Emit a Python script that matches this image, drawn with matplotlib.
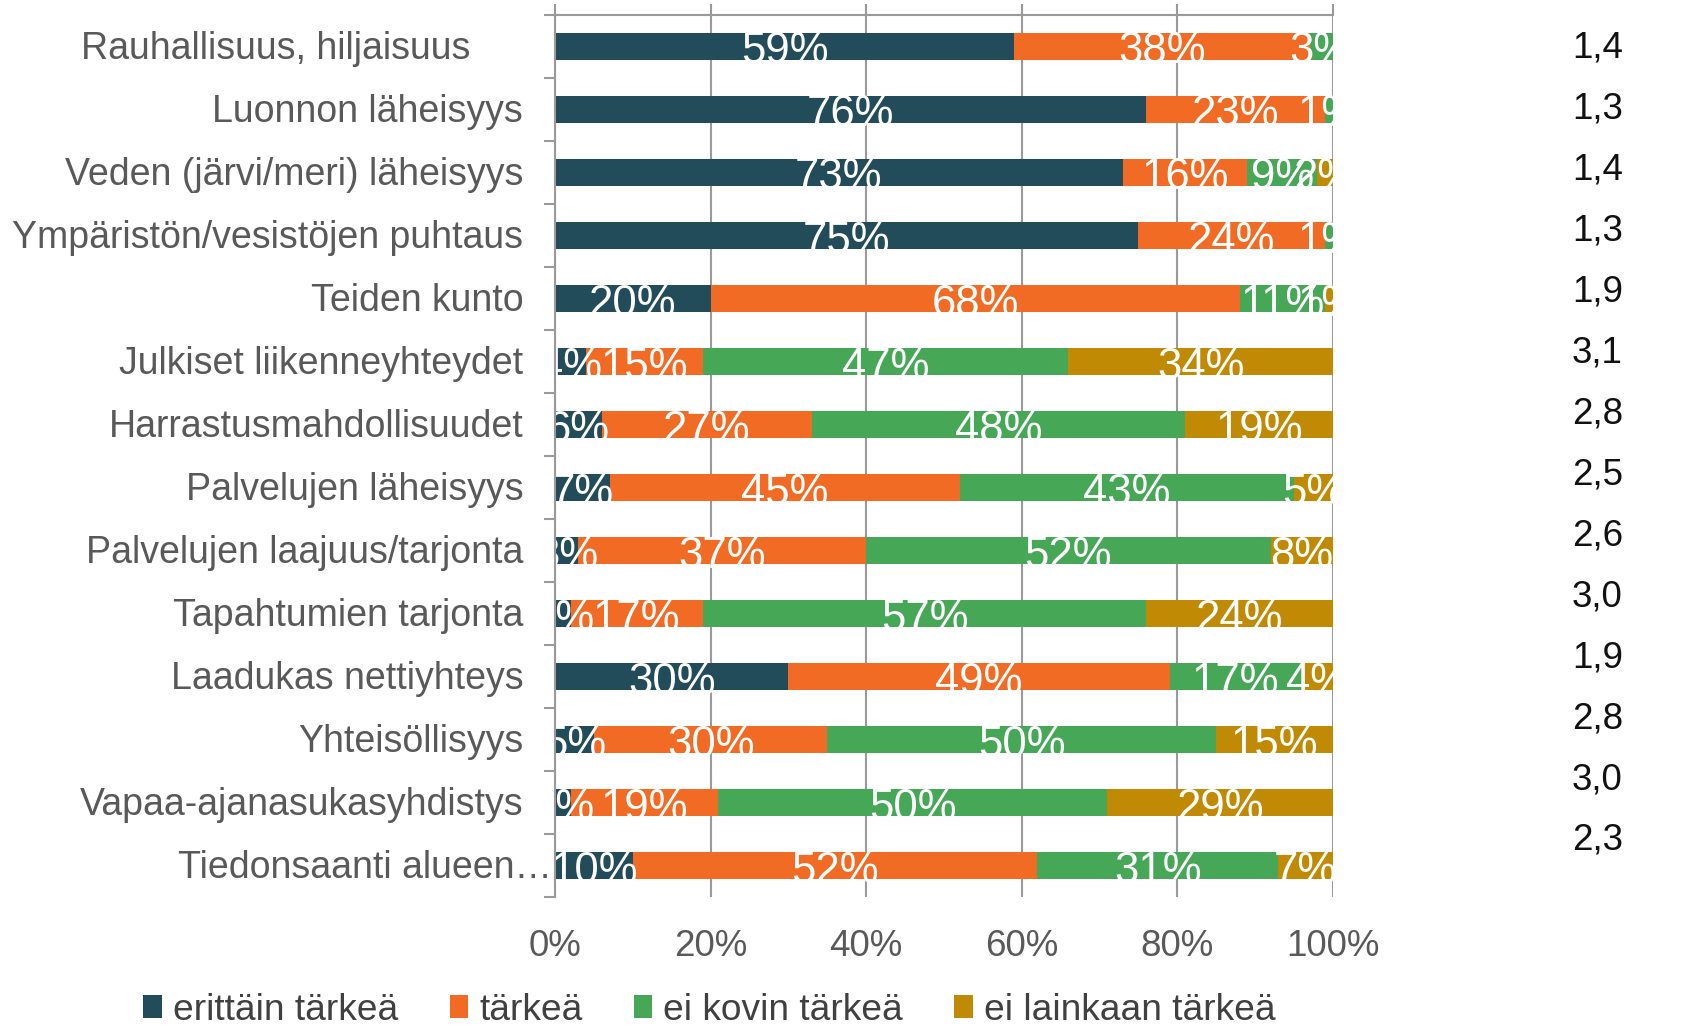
import numpy as np
import matplotlib
matplotlib.use('Agg')
import matplotlib.pyplot as plt
from matplotlib.patches import Patch

categories = ['Rauhallisuus, hiljaisuus',
              'Luonnon läheisyys',
              'Veden (järvi/meri) läheisyys',
              'Ympäristön/vesistöjen puhtaus',
              'Teiden kunto',
              'Julkiset liikenneyhteydet',
              'Harrastusmahdollisuudet',
              'Palvelujen läheisyys',
              'Palvelujen laajuus/tarjonta',
              'Tapahtumien tarjonta',
              'Laadukas nettiyhteys',
              'Yhteisöllisyys',
              'Vapaa-ajanasukasyhdistys',
              'Tiedonsaanti alueen…']

series_names = ['erittäin tärkeä', 'tärkeä', 'ei kovin tärkeä', 'ei lainkaan tärkeä']

erittain = [59, 76, 73, 75, 20, 4, 6, 7, 3, 2, 30, 5, 2, 10]
tarkea = [38, 23, 16, 24, 68, 15, 27, 45, 37, 17, 49, 30, 19, 52]
ei_kovin = [3, 1, 9, 1, 11, 47, 48, 43, 52, 57, 17, 50, 50, 31]
ei_lainkaan = [0, 0, 2, 0, 1, 34, 19, 5, 8, 24, 4, 15, 29, 7]

averages = ['1,4', '1,3', '1,4', '1,3', '1,9', '3,1', '2,8',
            '2,5', '2,6', '3,0', '1,9', '2,8', '3,0', '2,3']

x_ticks = [0, 20, 40, 60, 80, 100]

colors = ['#234C5A', '#F26B24', '#46A857', '#C18A04']
grey = '#9A9A9A'
label_grey = '#595959'

plt.rcParams['font.family'] = ['Liberation Sans', 'DejaVu Sans']


def stacked_chart(filepath='out.png'):
    '''
    Draws the 100% stacked horizontal bar chart with the
    average score column on the right
    '''
    fig = plt.figure(figsize=(16.83, 10.26), dpi=100)
    ax = fig.add_axes([0.3298, 0.1257, 0.4622, 0.8597])

    data = np.array([erittain, tarkea, ei_kovin, ei_lainkaan], dtype=float)
    y = np.arange(len(categories))
    left = np.zeros(len(categories))

    for k in range(data.shape[0]):
        ax.barh(y, data[k], left=left, height=0.44, color=colors[k],
                edgecolor='none', zorder=3)
        for i in range(len(categories)):
            val = data[k, i]
            if val > 0:
                ax.text(left[i] + val / 2., i + 0.27, '{:.0f}%'.format(val),
                        ha='center', va='baseline', color='white',
                        fontsize=31.5, zorder=4, clip_on=True)
        left += data[k]

    ax.set_xlim(0, 100)
    ax.set_ylim(len(categories) - 0.5, -0.5)

    # gridlines + axis at the top with outward ticks
    ax.set_xticks(x_ticks)
    ax.set_xticklabels(['{}%'.format(t) for t in x_ticks])
    ax.grid(axis='x', color=grey, lw=1.5, zorder=1)
    ax.tick_params(axis='x', which='major', bottom=False, top=True,
                   labelbottom=True, labeltop=False, length=8,
                   width=1.5, color=grey, labelsize=26.5,
                   labelcolor=label_grey, pad=15)

    ax.set_yticks(y)
    ax.set_yticklabels([])
    ax.set_yticks(np.arange(len(categories) + 1) - 0.5, minor=True)
    ax.tick_params(axis='y', which='major', length=0)
    ax.tick_params(axis='y', which='minor', length=8, width=1.5, color=grey)

    for side in ['right', 'bottom']:
        ax.spines[side].set_visible(False)
    for side in ['left', 'top']:
        ax.spines[side].set_color(grey)
        ax.spines[side].set_linewidth(1.5)
        ax.spines[side].set_zorder(5)

    # category labels
    trans = ax.get_yaxis_transform()
    for i, name in enumerate(categories):
        xpos = -0.041
        if i == 0:
            xpos = -0.109
        if name.endswith('…'):
            xpos = -0.004
        ax.text(xpos, i + 0.2, name, transform=trans, ha='right',
                va='baseline', fontsize=27.0, color=label_grey, clip_on=False)

    # average column
    ypos = np.linspace(1 - 45 / 1026., 1 - 837 / 1026., len(averages))
    for yy, avg in zip(ypos, averages):
        fig.text(0.934, yy - 13 / 1026., avg, ha='left', va='baseline',
                 fontsize=26.5, color='#111111')

    handles = [Patch(facecolor=c, edgecolor='none') for c in colors]
    fig.legend(handles, series_names, loc='center', ncol=4,
               bbox_to_anchor=(0.4216, 0.0155), frameon=False,
               fontsize=26.7, handlelength=0.5, handleheight=0.6,
               handletextpad=0.3, columnspacing=1.38, borderpad=0,
               labelcolor='#404040')

    fig.savefig(filepath, dpi=100)


if __name__ == '__main__':
    stacked_chart('out.png')
